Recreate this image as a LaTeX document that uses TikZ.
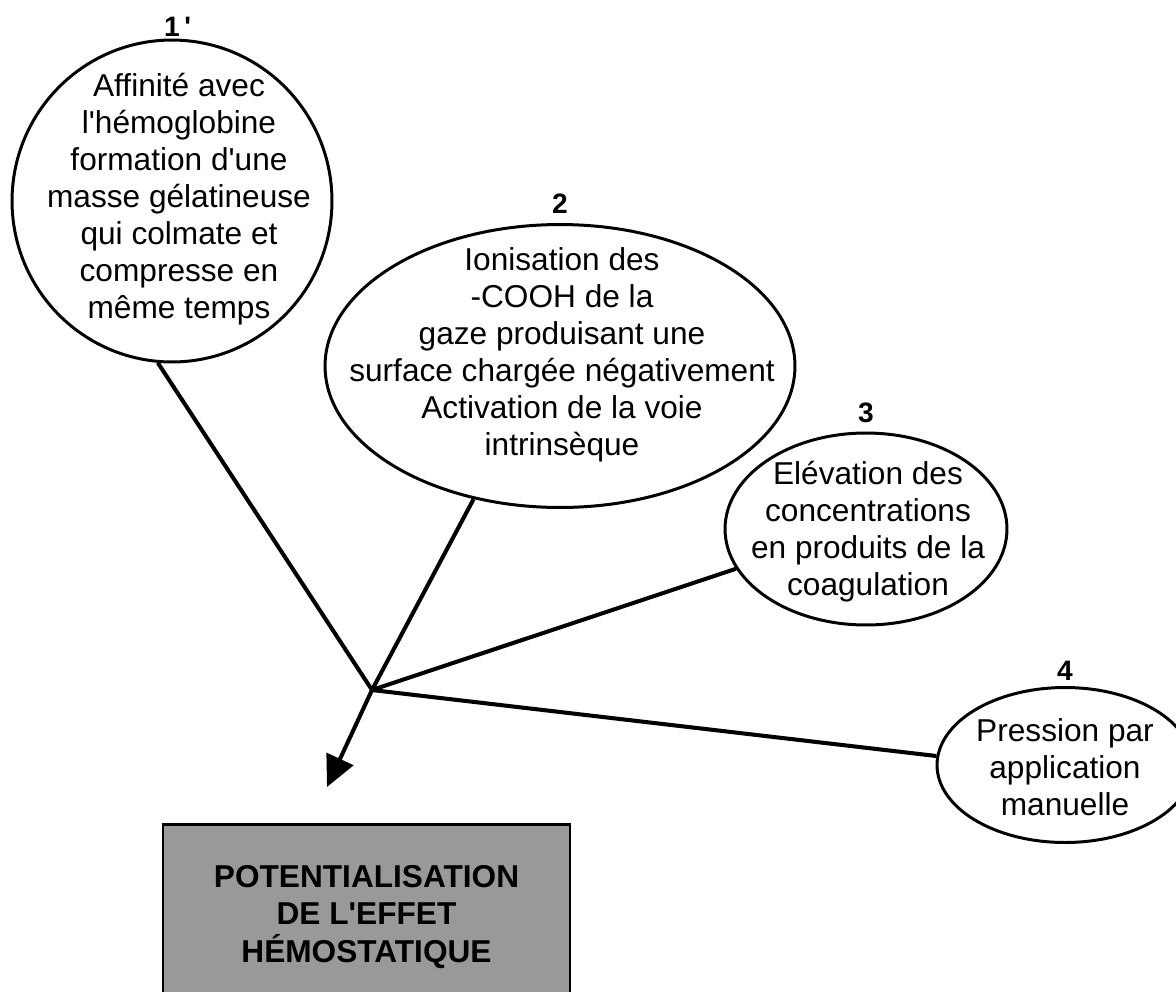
\documentclass[tikz,border=0pt]{standalone}
\usepackage{fontspec}
\setmainfont{Liberation Sans}
\usetikzlibrary{shapes.geometric}
\usetikzlibrary{arrows.meta}
\newcommand{\bodysize}{\fontsize{18}{21.1}\selectfont}
\newcommand{\numsize}{\fontsize{16}{18}\selectfont\bfseries}
\newcommand{\ap}{\textquotesingle}
\tikzset{
    bubble/.style={draw, ellipse, line width=1.7pt, inner sep=0pt},
    txt/.style={align=center, font=\bodysize, inner sep=0pt},
    num/.style={font=\numsize, inner sep=1pt, label distance=2pt},
    link/.style={line width=2.3pt},
    result/.style={draw, line width=1.2pt, fill=black!40, align=center, font=\bodysize\bfseries},
    headtip/.style={-{Triangle[length=0.62cm, width=0.58cm]}}
}

\begin{document}
\begin{tikzpicture}[x=0.02cm, y=-0.02cm]
    \useasboundingbox (0,0) rectangle (1176,991);
    \clip (0,0) rectangle (1176,991);

    \node[bubble, minimum width=6.4cm, minimum height=6.44cm,
          label={[num, label distance=0pt]above:1\rlap{\,\ap}}] (e1) at (172,201) {};
    \node[txt] (t1) at (179,199) {Affinité avec\\l\ap hémoglobine\\formation d\ap une\\masse gélatineuse\\qui colmate et\\compresse en\\même temps};

    \node[bubble, minimum width=9.4cm, minimum height=5.66cm,
          label={[num, label distance=4pt]above:2}] (e2) at (560,366) {};
    \node[txt] (t2) at (562,355) {Ionisation des\\-COOH de la\\gaze produisant une\\surface chargée négativement\\Activation de la voie\\intrinsèque};

    \node[bubble, minimum width=5.64cm, minimum height=3.84cm,
          label={[num, label distance=4pt]above:3}] (e3) at (866,529) {};
    \node[txt] (t3) at (868,532) {Elévation des\\concentrations\\en produits de la\\coagulation};

    \node[bubble, minimum width=5.12cm, minimum height=3.1cm,
          label={[num]above:4}] (e4) at (1065,765) {};
    \node[txt] (t4) at (1065,767) {Pression par\\application\\manuelle};

    \node[result, minimum width=8.14cm, minimum height=3.7cm] (effet) at (366.5,917)
        {POTENTIALISATION\\DE L\ap EFFET\\HÉMOSTATIQUE};

    \coordinate (hub) at (372,690);
    \coordinate (tip) at (327,787);

    \draw[link] (e1.265) -- (hub);
    \draw[link] (e2.237) -- (hub);
    \draw[link] (e3.197) -- (hub);
    \draw[link] (e4.176) -- (hub);
    \draw[link, headtip] (hub) -- (tip);
\end{tikzpicture}
\end{document}
